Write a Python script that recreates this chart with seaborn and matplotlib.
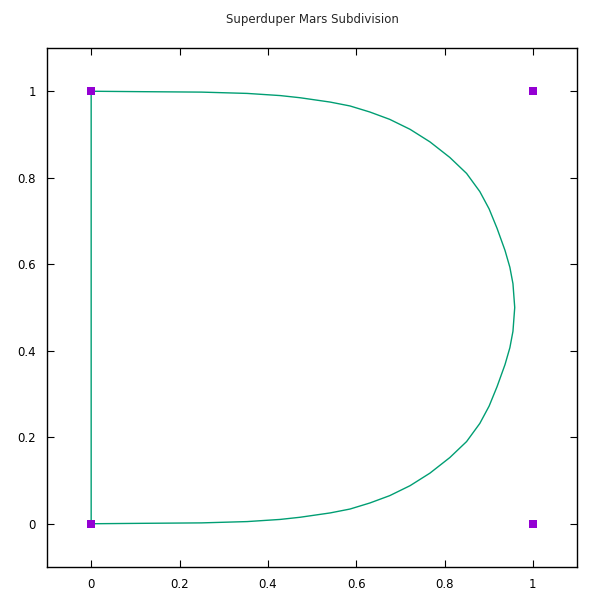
import matplotlib
matplotlib.use("Agg")
import matplotlib.pyplot as plt
import seaborn as sns
import pandas as pd

# control points
ctrl_x = [0, 0, 1, 1]
ctrl_y = [0, 1, 1, 0]

# subdivision curve, starting at (0,0), up the left edge, round the right
curve_x = [0.0, 0.0, 0.118, 0.250, 0.353, 0.428, 0.473, 0.541, 0.586, 0.631, 0.676,
           0.722, 0.767, 0.812, 0.850, 0.880, 0.901, 0.919, 0.937, 0.948, 0.955,
           0.959,
           0.955, 0.948, 0.937, 0.919, 0.901, 0.880, 0.850, 0.812, 0.767, 0.722,
           0.676, 0.631, 0.586, 0.541, 0.473, 0.428, 0.353, 0.250, 0.118, 0.0]
curve_y = [0.0, 1.0, 0.999, 0.998, 0.995, 0.990, 0.985, 0.975, 0.966, 0.952, 0.935,
           0.912, 0.883, 0.847, 0.810, 0.768, 0.728, 0.683, 0.632, 0.593, 0.555,
           0.500,
           0.445, 0.407, 0.368, 0.317, 0.272, 0.232, 0.190, 0.153, 0.117, 0.088,
           0.065, 0.048, 0.034, 0.025, 0.015, 0.010, 0.005, 0.002, 0.001, 0.0]

tick_vals = [0, 0.2, 0.4, 0.6, 0.8, 1]
tick_labels = ["0", "0.2", "0.4", "0.6", "0.8", "1"]

sns.set_style("ticks")
plt.rcParams['font.family'] = ['DejaVu Sans']

fig = plt.figure(figsize=(6, 6), dpi=100)
ax = fig.add_axes([47/600, 1 - 567/600, (577 - 47)/600, (567 - 48)/600])

curve = pd.DataFrame({"x": curve_x, "y": curve_y})
sns.lineplot(data=curve, x="x", y="y", sort=False, estimator=None,
             color="#009e73", linewidth=1.0, ax=ax)
pts = pd.DataFrame({"x": ctrl_x, "y": ctrl_y})
sns.scatterplot(data=pts, x="x", y="y", marker="s", s=30, color="#9400d3",
                edgecolor="#9400d3", linewidth=0, ax=ax, zorder=3)

ax.set_xlim(-0.1, 1.1)
ax.set_ylim(-0.1, 1.1)
ax.set_xticks(tick_vals)
ax.set_xticklabels(tick_labels)
ax.set_yticks(tick_vals)
ax.set_yticklabels(tick_labels)
ax.tick_params(direction="in", length=5, width=0.8, top=True, right=True,
               labelsize=8.5, pad=8, colors="black")
for s in ax.spines.values():
    s.set_visible(True)
    s.set_linewidth(1.0)
    s.set_color("black")
ax.set_xlabel("")
ax.set_ylabel("")
ax.set_title("Superduper Mars Subdivision", fontsize=8.5, pad=18)

fig.savefig("out.png", dpi=100)
